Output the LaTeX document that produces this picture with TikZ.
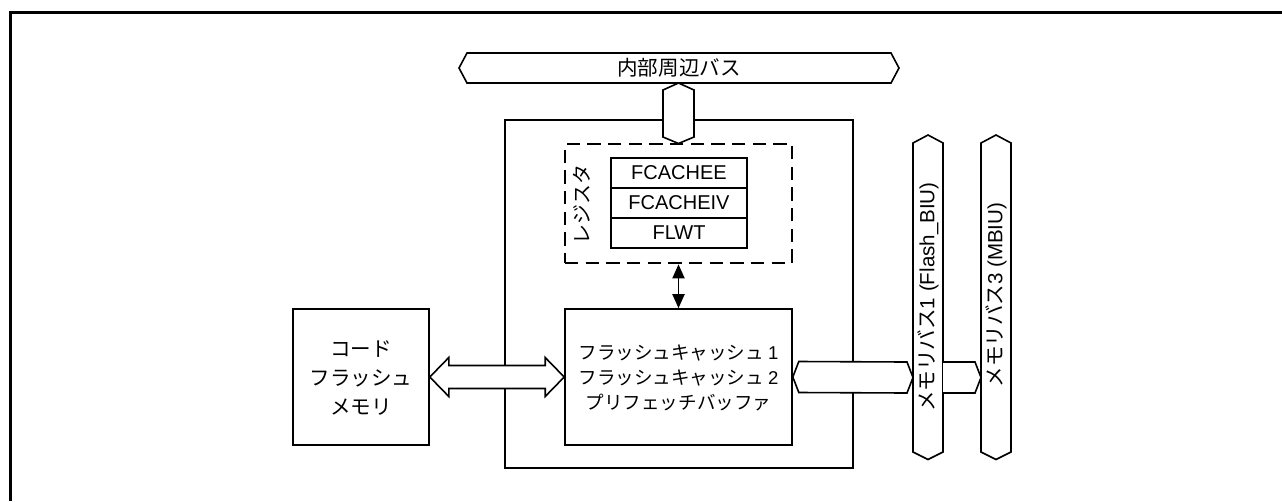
\documentclass[tikz,border=0pt]{standalone}
\usepackage{fontspec}
\setmainfont{Liberation Sans}
\newfontfamily\jp{Noto Sans CJK JP}
\usetikzlibrary{arrows.meta,calc,fit}
\begin{document}
\begin{tikzpicture}[x=0.75pt,y=-0.75pt,line width=1.2pt,
  blk/.style={draw,fill=white,inner sep=0pt},
  regbox/.style={draw,dash pattern=on 10pt off 5.5pt,line width=2pt,inner sep=0pt},
  bus/.style={draw,fill=white,line join=miter},
  lbl/.style={inner sep=0pt,font=\fontsize{15.4}{18}\selectfont},
  lbls/.style={inner sep=0pt,font=\fontsize{13.9}{18.75}\selectfont,align=center},
  frameline/.style={line width=2.3pt}]
\useasboundingbox (0,0) rectangle (1282,501);
% outer frame (cropped)
\draw[frameline] (10.5,501) -- (10.5,12.3) -- (1282,12.3);
% outer module box
\node[blk,fit={(505,120) (853,468)}] (outer) {};
% internal peripheral bus
\draw[bus] (459,68) -- (467,53) -- (891,53) -- (899,68) -- (891,83) -- (467,83) -- cycle;
\node[lbl] (ibus) at (679,68) {\jp 内部周辺バス};
% vertical bus link into module
\draw[bus] (678.5,83) -- (694,90) -- (694,137) -- (678.5,143.5) -- (663,137) -- (663,90) -- cycle;
% register dashed box
\node[regbox,fit={(565,144) (792,263)}] (regs) {};
\node[lbl,rotate=90,font=\jp\fontsize{15}{18}\selectfont] (regt) at (582,204) {レジスタ};
\node[blk,fit={(611,158) (747,188)}] (r1) {};
\node[blk,fit={(611,188) (747,218)}] (r2) {};
\node[blk,fit={(611,218) (747,248)}] (r3) {};
\node[lbl,font=\fontsize{15}{18}\selectfont] at (r1.center) {FCACHEE};
\node[lbl,font=\fontsize{15}{18}\selectfont] at (r2.center) {FCACHEIV};
\node[lbl,font=\fontsize{15}{18}\selectfont] at (r3.center) {FLWT};
% cache box
\node[blk,fit={(565,309) (792,445)}] (cache) {};
\node[lbls] at ($(cache.center)+(0,1)$) {\jp フラッシュキャッシュ {\rmfamily 1}\\\jp フラッシュキャッシュ {\rmfamily 2}\\\jp プリフェッチバッファ};
% code flash box
\node[blk,fit={(293,309) (429,445)}] (code) {};
\node[lbl,align=center,font=\jp\fontsize{15.4}{21.4}\selectfont] at ($(code.center)+(0,1)$) {コード\\フラッシュ\\メモリ};
% register <-> cache arrow
\draw[{Triangle[length=10.5pt,width=9pt]}-{Triangle[length=10.5pt,width=9pt]},line width=1.4pt] (regs.south -| cache.north) -- (cache.north);
% big double arrow code <-> cache
\coordinate (al) at (code.east);
\coordinate (ar) at (cache.west);
\draw[bus] (al) -- ($(al)+(19,-19.5)$) -- ($(al)+(19,-11.5)$) -- ($(ar)+(-19,-11.5)$) -- ($(ar)+(-19,-19.5)$) -- (ar)
  -- ($(ar)+(-19,19.5)$) -- ($(ar)+(-19,11.5)$) -- ($(al)+(19,11.5)$) -- ($(al)+(19,19.5)$) -- cycle;
% memory buses
\draw[bus] (913,143) -- (928,135) -- (943,143) -- (943,452) -- (928,459.5) -- (913,452) -- cycle;
\draw[bus] (981,143) -- (996,135) -- (1011,143) -- (1011,452) -- (996,459.5) -- (981,452) -- cycle;
\coordinate (b1) at (928,297);
\coordinate (b3) at (996,295);
\node[lbl,rotate=90] (b1t) at (b1) {{\jp メモリバス}1 (Flash\_BIU)};
\node[lbl,rotate=90] (b3t) at (b3) {{\jp メモリバス}3 (MBIU)};
% link cache -> bus1
\draw[bus] (cache.east) -- ($(cache.east)+(6,-15.5)$) -- (907,362) -- (913,377.5) -- (907,393) -- ($(cache.east)+(6,15.5)$) -- cycle;
% link bus1 -> bus3
\draw[bus] (943,362) -- (975,362) -- (981,377.5) -- (975,393) -- (943,393);
\end{tikzpicture}
\end{document}
